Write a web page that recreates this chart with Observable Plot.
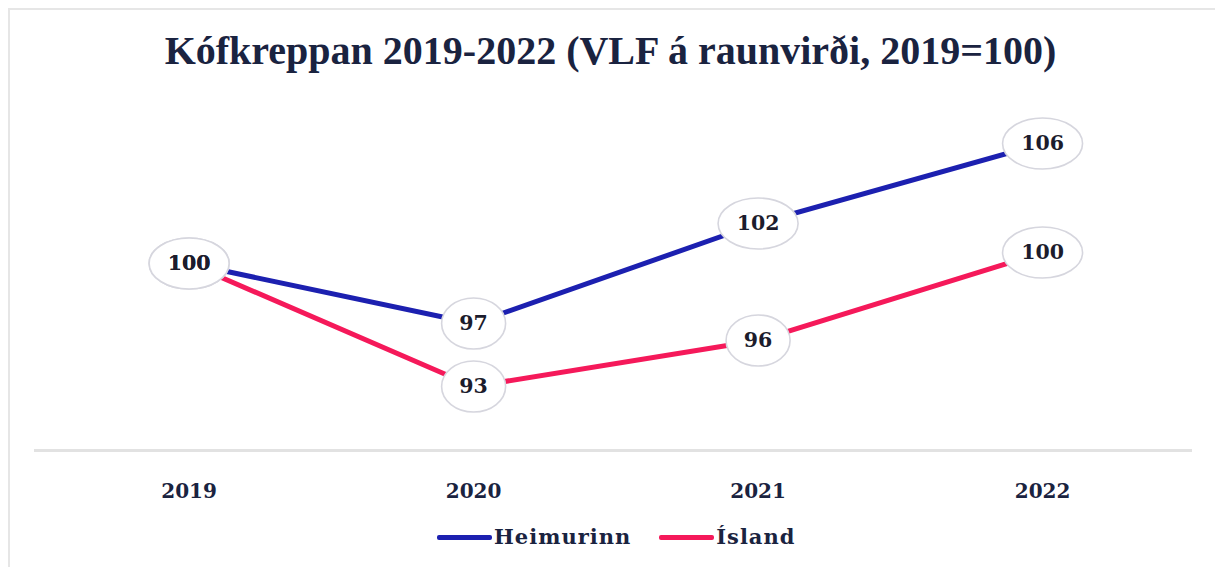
<!DOCTYPE html>
<html>
<head>
<meta charset="utf-8">
<script src="https://cdn.jsdelivr.net/npm/d3@7"></script>
<script src="https://cdn.jsdelivr.net/npm/@observablehq/plot@0.6"></script>
<style>
  html, body { margin: 0; padding: 0; background: #fff; width: 1215px; height: 567px; overflow: hidden; }
  #frame { position: absolute; left: 8px; top: 8px; width: 1230px; height: 580px; border-top: 2px solid #e6e6e6; border-left: 2px solid #e6e6e6; }
  #title { position: absolute; left: 0; top: 31px; width: 1215px; text-align: center; font-family: "Liberation Serif", serif; font-weight: bold; font-size: 40px; line-height: 40px; color: #1a2340; white-space: nowrap; padding-left: 6px; box-sizing: border-box; }
  #chart { position: absolute; left: 0; top: 95px; }
  #legend { position: absolute; left: 437px; top: 524px; display: flex; align-items: center; font-family: "DejaVu Serif", serif; font-weight: bold; font-size: 21px; letter-spacing: 1px; color: #1a2340; line-height: 26px; }
  .item { display: flex; align-items: center; margin-right: 28px; }
  .sw { width: 55px; height: 5px; border-radius: 2px; margin-right: 2px; }
</style>
</head>
<body>
<div id="frame"></div>
<div id="title"></div>
<div id="chart"></div>
<div id="legend"></div>
<script>
const titleText = "Kófkreppan 2019-2022 (VLF á raunvirði, 2019=100)";
const years = [2019, 2020, 2021, 2022];
const seriesNames = ["Heimurinn", "Ísland"];
const heimurinnValues = [100, 97, 102, 106];
const heimurinnLabels = ["100", "97", "102", "106"];
const islandValues = [100, 93.85, 96.15, 100.55];
const islandLabels = ["100", "93", "96", "100"];
const seriesColors = ["#1c20b0", "#f5195a"];

document.getElementById("title").textContent = titleText;

const rows = [];
years.forEach((y, i) => rows.push({year: y, value: heimurinnValues[i], label: heimurinnLabels[i], series: seriesNames[0]}));
years.forEach((y, i) => rows.push({year: y, value: islandValues[i], label: islandLabels[i], series: seriesNames[1]}));

const ellipse = {
  draw(context, size) {
    const rx = Math.sqrt(size / Math.PI), ry = 25.5, k = 0.5523;
    context.moveTo(rx, 0);
    context.bezierCurveTo(rx, k * ry, k * rx, ry, 0, ry);
    context.bezierCurveTo(-k * rx, ry, -rx, k * ry, -rx, 0);
    context.bezierCurveTo(-rx, -k * ry, -k * rx, -ry, 0, -ry);
    context.bezierCurveTo(k * rx, -ry, rx, -k * ry, rx, 0);
    context.closePath();
  }
};

const chart = Plot.plot({
  width: 1215,
  height: 420,
  marginLeft: 35,
  marginRight: 25,
  marginTop: 20,
  marginBottom: 65,
  style: {background: "transparent", fontFamily: "DejaVu Serif", overflow: "visible"},
  x: {type: "linear", domain: [2018.46, 2022.52], axis: null},
  y: {domain: [90.65, 107.4], axis: null},
  r: {type: "identity"},
  color: {domain: seriesNames, range: seriesColors},
  marks: [
    Plot.frame({anchor: "bottom", stroke: "#e2e2e2", strokeWidth: 3}),
    Plot.axisX({ticks: years, tickSize: 0, tickPadding: 33, tickFormat: d => String(d), fontSize: 20, fontWeight: "bold", fontFamily: "DejaVu Serif", fill: "#1a2340", label: null}),
    Plot.line(rows, {x: "year", y: "value", z: "series", stroke: "series", strokeWidth: 5}),
    Plot.dot(rows, {x: "year", y: "value", r: d => d.label.length > 2 ? 40 : 32, symbol: ellipse, fill: "#fff", stroke: "#d6d6de", strokeWidth: 1.6}),
    Plot.text(rows, {x: "year", y: "value", text: "label", fontSize: 20.5, fontWeight: "bold", fontFamily: "DejaVu Serif", fill: "#1c1c2c"})
  ]
});
document.getElementById("chart").appendChild(chart);

const legend = document.getElementById("legend");
seriesNames.forEach((name, i) => {
  const item = document.createElement("div");
  item.className = "item";
  const sw = document.createElement("div");
  sw.className = "sw";
  sw.style.background = seriesColors[i];
  const t = document.createElement("span");
  t.textContent = name;
  item.appendChild(sw);
  item.appendChild(t);
  legend.appendChild(item);
});
</script>
</body>
</html>
